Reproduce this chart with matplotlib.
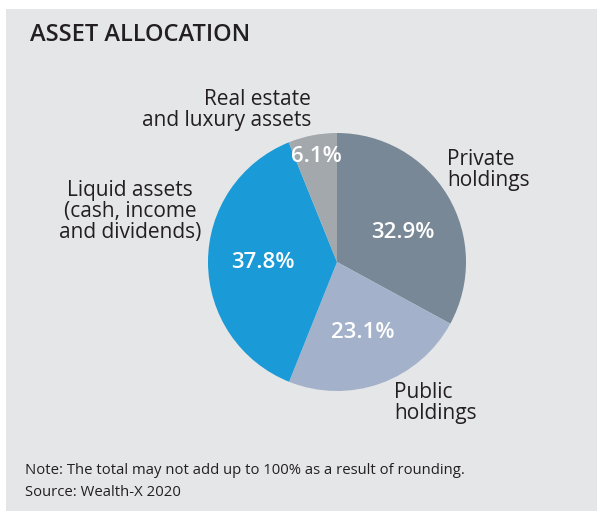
import matplotlib.pyplot as plt
from matplotlib.patches import Rectangle
import numpy as np

labels = ['Private\nholdings', 'Public\nholdings',
          'Liquid assets\n(cash, income\nand dividends)',
          'Real estate\nand luxury assets']
shares = [32.9, 23.1, 37.8, 6.1]
colors = ['#788896', '#a3b2ca', '#1a9ad6', '#a3a8ac']
pct_dist = [0.56, 0.58, 0.575, 0.83]
pct_shift = [-7, 0, 0, 0]  # degrees, nudges the label inside its slice

plt.rcParams['font.family'] = ['Open Sans', 'DejaVu Sans']

W, H = 600, 514
fig = plt.figure(figsize=(W / 100, H / 100), dpi=100)
fig.patch.set_facecolor('white')

def px(x, y):
    return x / W, 1 - y / H

# grey panel
fig.patches.append(Rectangle(px(6, 511), 591 / W, 502 / H, transform=fig.transFigure,
                             facecolor='#e5e6e8', edgecolor='none', zorder=-5))

cx, cy, r = 337, 262, 129
ax = fig.add_axes([(cx - r) / W, 1 - (cy + r) / H, 2 * r / W, 2 * r / H])
ax.set_zorder(2)
ax.patch.set_visible(False)
wedges, _ = ax.pie(shares, colors=colors, startangle=90, counterclock=False,
                   wedgeprops=dict(linewidth=0))
ax.set_xlim(-1, 1)
ax.set_ylim(-1, 1)
ax.axis('off')

for w, v, d, s in zip(wedges, shares, pct_dist, pct_shift):
    ang = np.deg2rad((w.theta1 + w.theta2) / 2 + s)
    ax.text(d * np.cos(ang), d * np.sin(ang), f'{v}%', ha='center', va='center',
            color='white', fontsize=16, fontweight='semibold')

fig.text(*px(30, 35), 'ASSET ALLOCATION', fontsize=17, fontweight='semibold',
         color='#231f20', va='center', ha='left')

txt = dict(fontsize=15, color='#231f20', linespacing=1.0)
fig.text(*px(311, 126), labels[3], ha='right', va='baseline', multialignment='right', **txt)
fig.text(*px(130, 238), labels[2], ha='center', va='baseline', multialignment='center', **txt)
fig.text(*px(447, 186), labels[0], ha='left', va='baseline', **txt)
fig.text(*px(394, 419), labels[1], ha='left', va='baseline', **txt)

note = dict(fontsize=10.7, color='#231f20', ha='left', va='center')
fig.text(*px(25, 471), 'Note: The total may not add up to 100% as a result of rounding.', **note)
fig.text(*px(25, 492), 'Source: Wealth-X 2020', **note)

fig.savefig('out.png', dpi=100)
